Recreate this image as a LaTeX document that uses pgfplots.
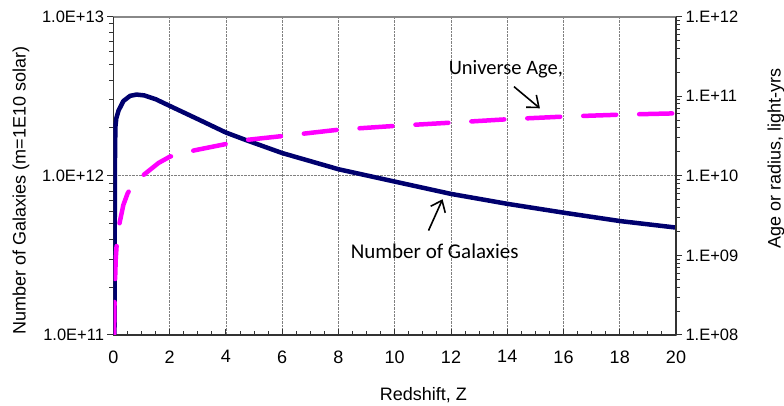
\documentclass[border=0pt]{standalone}
\usepackage{fontspec}
\setmainfont{Liberation Sans}
\newfontfamily\calib{Carlito}
\usepackage{pgfplots}
\pgfplotsset{compat=1.18}
\usetikzlibrary{arrows.meta}
\definecolor{navyline}{RGB}{0,0,110}
\definecolor{axisdark}{RGB}{50,50,50}
\definecolor{topgray}{RGB}{136,136,136}
\definecolor{agemag}{RGB}{255,0,255}

\begin{document}
\begin{tikzpicture}[font=\fontsize{18}{21}\selectfont]
\useasboundingbox (-113.5pt,-70pt) rectangle (670.5pt,335pt);

% primary axis: number of galaxies
\begin{axis}[
    at={(0,0)}, anchor=south west,
    scale only axis, width=562.5pt, height=318.3pt,
    xmin=0, xmax=20,
    ymode=log, ymin=1e11, ymax=1e13,
    axis x line*=bottom, axis y line*=left,
    axis line style={axisdark, line width=1.6pt},
    xtick={0,2,...,20}, minor x tick num=3,
    ytick={1e11,1e12,1e13},
    yticklabels={1.0E+11,1.0E+12,1.0E+13},
    minor ytick={2e11,3e11,4e11,5e11,6e11,7e11,8e11,9e11,2e12,3e12,4e12,5e12,6e12,7e12,8e12,9e12},
    xmajorgrids, ymajorgrids,
    major grid style={gray, densely dotted, line width=0.7pt},
    tick style={axisdark, line width=1pt},
    tick align=outside,
    major tick length=6pt, minor tick length=4pt,
    every x tick/.append style={yshift=6pt},
    every minor x tick/.append style={yshift=-2pt},
    x tick label style={font=\fontsize{18}{21}\selectfont, yshift=-6pt},
    y tick label style={font=\fontsize{16.5}{20}\selectfont},
    /pgf/number format/assume math mode=true,
    xlabel={Redshift, Z},
    xlabel style={at={(axis description cs:0.551,-0.1885)}, anchor=center},
    ylabel={Number of Galaxies (m=1E10 solar)},
    ylabel style={at={(axis description cs:-0.1644,0.454)}, anchor=center},
]
\addplot[navyline, line width=4.5pt, line join=round] coordinates {
(0.035,1e11) (0.045,6e11) (0.055,1.5e12) (0.07,2.05e12) (0.1,2.3e12)
(0.18,2.57e12) (0.35,2.95e12) (0.59,3.18e12) (0.82,3.24e12) (1.1,3.2e12)
(1.5,3.03e12) (2,2.75e12) (3,2.27e12) (4,1.87e12) (4.7,1.68e12)
(6,1.39e12) (8,1.1e12) (10,9.2e11) (12,7.7e11) (14,6.67e11)
(16,5.87e11) (18,5.2e11) (20,4.73e11)
};
\end{axis}

% secondary axis: universe age
\begin{axis}[
    at={(0,0)}, anchor=south west,
    scale only axis, width=562.5pt, height=318.3pt,
    xmin=0, xmax=20,
    ymode=log, ymin=1e8, ymax=1e12,
    axis x line*=top, axis y line*=right,
    x axis line style={topgray, line width=2pt},
    y axis line style={axisdark, line width=1.6pt},
    xtick=\empty,
    ytick={1e8,1e9,1e10,1e11,1e12},
    yticklabels={1.E+08,1.E+09,1.E+10,1.E+11,1.E+12},
    minor ytick={2e8,3e8,4e8,5e8,6e8,7e8,8e8,9e8,2e9,3e9,4e9,5e9,6e9,7e9,8e9,9e9,2e10,3e10,4e10,5e10,6e10,7e10,8e10,9e10,2e11,3e11,4e11,5e11,6e11,7e11,8e11,9e11},
    tick style={axisdark, line width=1pt},
    tick align=outside,
    major tick length=6pt, minor tick length=4pt,
    y tick label style={font=\fontsize{16.5}{20}\selectfont},
    ylabel={Age or radius, light-yrs},
    ylabel style={at={(axis description cs:1.1778,0.555)}, anchor=center, rotate=0},
]
\addplot[agemag, line width=4.5pt, line cap=round, dash pattern=on 33pt off 23pt] coordinates {
(0.02,1e8) (0.04,3e8) (0.06,5.4e8) (0.08,9e8) (0.12,1.5e9)
(0.21,2.5e9) (0.35,4.3e9) (0.5,6e9) (0.7,7.9e9) (1.06,1.02e10)
(1.6,1.45e10) (2,1.74e10) (2.9,2.1e10) (4,2.51e10) (4.7,2.82e10)
(6,3.16e10) (8,3.8e10) (10,4.24e10) (12,4.66e10) (14,5.14e10)
(16,5.55e10) (18,5.87e10) (20,6.1e10)
};
\node[font=\calib\fontsize{20.5}{24}\selectfont] at (axis cs:13.95,2.18e11) {Universe Age,};
\draw[line width=1.6pt, -{Straight Barb[length=10pt,width=16pt]}]
    (axis cs:14.24,1.32e11) -- (axis cs:15.16,7.06e10);
\node[font=\calib\fontsize{21}{24}\selectfont] at (axis cs:11.42,1.12e9) {Number of Galaxies};
\draw[line width=1.6pt, -{Straight Barb[length=10pt,width=16pt]}]
    (axis cs:11.2,2.05e9) -- (axis cs:11.7,5.08e9);
\end{axis}
\end{tikzpicture}
\end{document}
